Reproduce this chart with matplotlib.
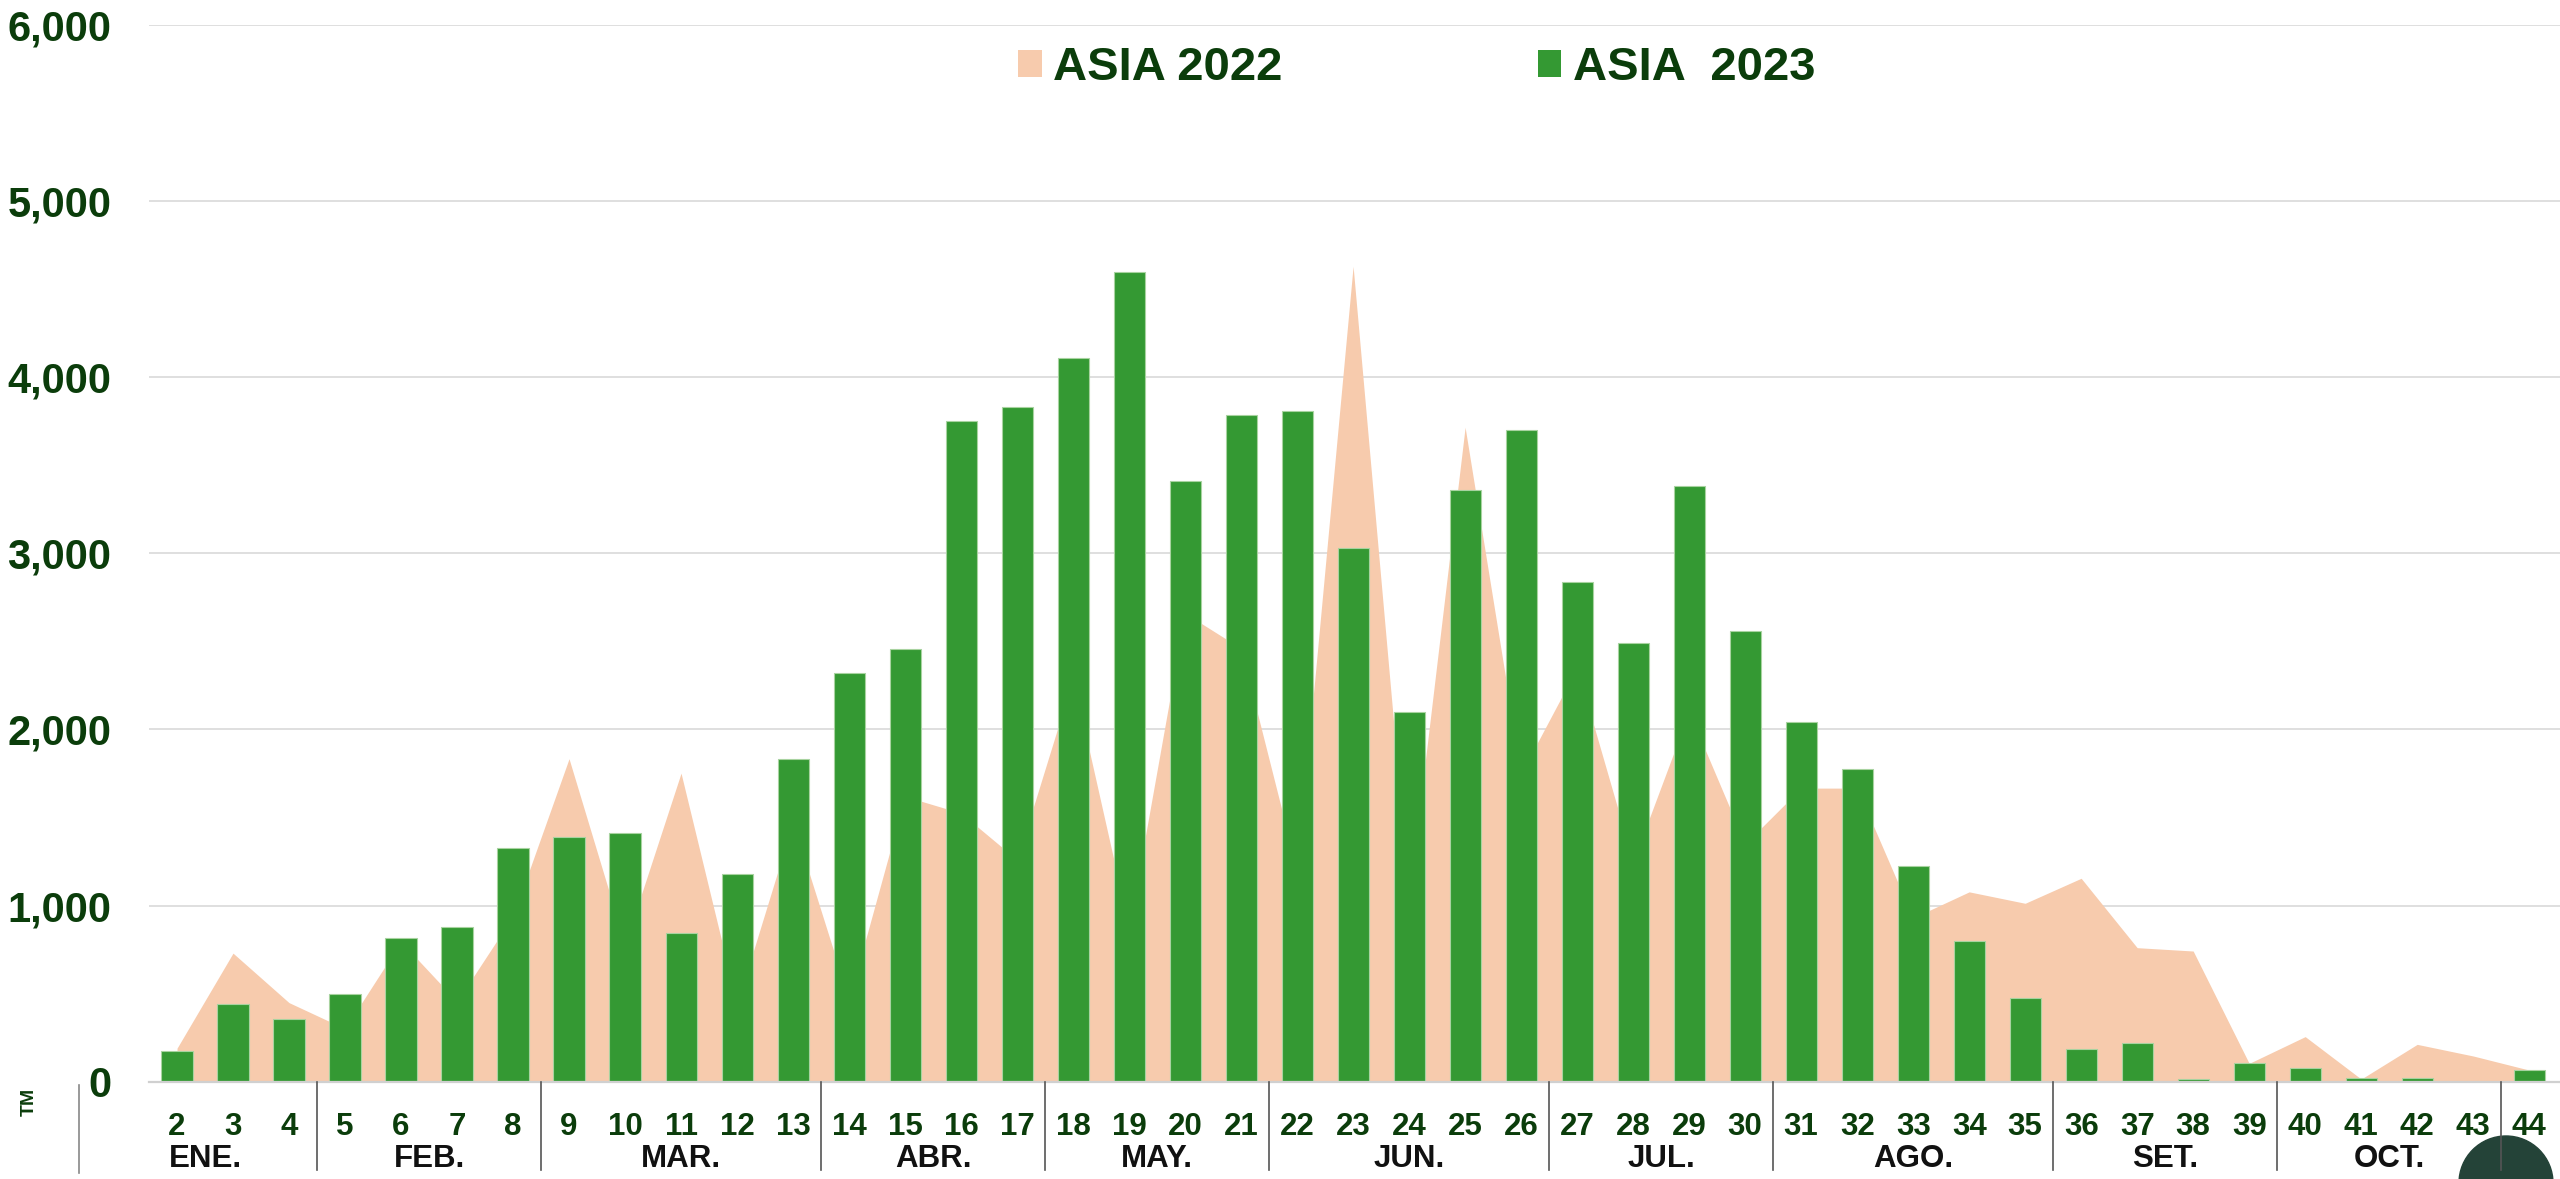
import matplotlib.pyplot as plt
from matplotlib.patches import Patch, Ellipse
from matplotlib.lines import Line2D

plt.rcParams['font.family'] = ['Liberation Sans', 'DejaVu Sans']
plt.rcParams['font.weight'] = 'bold'

# weekly volumes (TM)
weeks = list(range(2, 45))
asia_2022 = [190, 730, 449, 301, 795, 455, 940, 1834, 780, 1752, 440, 1475, 466,
             1620, 1525, 1260, 2290, 875, 2660, 2460, 1200, 4630, 1050, 3716, 1750,
             2350, 1250, 2100, 1350, 1667, 1667, 930, 1078, 1013, 1155, 761, 742,
             104, 256, 15, 212, 146, 66]
asia_2023 = [176, 440, 354, 500, 815, 879, 1326, 1390, 1411, 847, 1182, 1832, 2318,
             2457, 3750, 3830, 4110, 4600, 3410, 3785, 3810, 3030, 2100, 3360, 3700,
             2840, 2490, 3380, 2560, 2045, 1777, 1227, 798, 476, 184, 222, 15, 106,
             80, 20, 20, 0, 65]
months = ['ENE.', 'FEB.', 'MAR.', 'ABR.', 'MAY.', 'JUN.', 'JUL.', 'AGO.', 'SET.', 'OCT.']
# first and last week of each month (january starts at week 1)
month_first_last = [(1, 4), (5, 8), (9, 13), (14, 17), (18, 21), (22, 26),
                    (27, 30), (31, 35), (36, 39), (40, 43)]

GREEN = '#349933'
PEACH = '#f7cbad'
LABEL = '#0b3d0b'

fig = plt.figure(figsize=(25.6, 11.79), dpi=100)
ax = fig.add_axes([149 / 2560, 1 - 1081.7 / 1179, 1 - 149 / 2560, (1081.7 - 25) / 1179])

ax.fill_between(weeks, asia_2022, 0, color=PEACH, linewidth=0, zorder=1)
ax.bar(weeks, asia_2023, width=0.555, color=GREEN, edgecolor='#a8d3a0',
       linewidth=0.8, zorder=2)

ax.set_xlim(1.5, 44.55)
ax.set_ylim(0, 6000)
ax.set_yticks(range(0, 6001, 1000))
ax.set_yticklabels([f'{v:,}' for v in range(0, 6001, 1000)],
                   fontsize=30, color=LABEL, fontweight='bold')
ax.grid(axis='y', color='#d9d9d9', linewidth=1.2, zorder=0)
ax.set_axisbelow(True)
ax.tick_params(axis='y', length=0, pad=27)

ax.set_xticks(weeks)
ax.set_xticklabels([str(w) for w in weeks], fontsize=22.5, color=LABEL,
                   fontweight='bold')
ax.tick_params(axis='x', length=0, pad=22)

for s in ['top', 'right', 'left']:
    ax.spines[s].set_visible(False)
ax.spines['bottom'].set_color('#d0d0d0')
ax.spines['bottom'].set_linewidth(1.6)

# month labels and separators below the axis
trans = ax.get_xaxis_transform()
for name, (a, b) in zip(months, month_first_last):
    ax.text((a + b) / 2, -0.073, name, transform=trans, ha='center', va='center',
            fontsize=22.5, color='#111111', fontweight='bold')
    ax.plot([b + 0.5, b + 0.5], [0, -0.084], transform=trans, color='#555555',
            linewidth=1.2, clip_on=False, zorder=5)

# left bracket line and unit
fig.add_artist(Line2D([79 / 2560, 79 / 2560], [1 - 1085 / 1179, 1 - 1173 / 1179],
                      color='#888888', linewidth=1.2))
fig.text(29 / 2560, 1 - 1102 / 1179, 'TM', rotation=90, ha='center', va='center',
         fontsize=14, color=LABEL, fontweight='bold')

# dark badge in the corner
fig.add_artist(Ellipse((2506 / 2560, 1 - 1183 / 1179), 94 / 2560, 94 / 1179,
                       transform=fig.transFigure, color='#244338', zorder=-1))

handles = [Patch(facecolor=PEACH, edgecolor='none'),
           Patch(facecolor=GREEN, edgecolor='none')]
fig.legend(handles, ['ASIA 2022', 'ASIA  2023'], loc='center left',
           bbox_to_anchor=(1018 / 2560, 1 - 68 / 1179), ncol=2, frameon=False,
           prop={'size': 34, 'weight': 'bold'}, labelcolor=LABEL,
           handlelength=0.5, handleheight=0.5, handletextpad=0.25,
           columnspacing=5.4, borderpad=0, borderaxespad=0)

fig.savefig('out.png', dpi=100)
